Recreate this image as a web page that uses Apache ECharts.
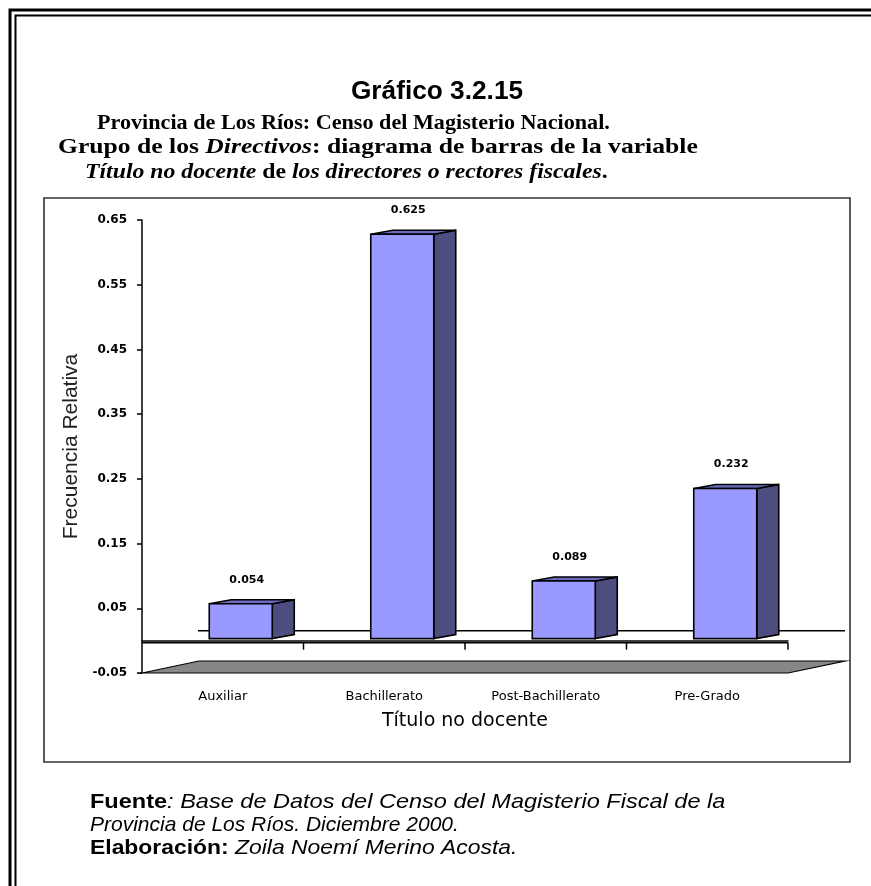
<!DOCTYPE html>
<html>
<head>
<meta charset="utf-8">
<title>Gráfico 3.2.15</title>
<script src="https://cdn.jsdelivr.net/npm/echarts@6/dist/echarts.min.js"></script>
<style>
  html, body { margin: 0; padding: 0; background: #fff; }
  #chart { width: 871px; height: 886px; }
</style>
</head>
<body>
<div id="chart"></div>
<script>
// datos del grafico
var categorias = ['Auxiliar', 'Bachillerato', 'Post-Bachillerato', 'Pre-Grado'];
var frecuencias = [0.054, 0.625, 0.089, 0.232];
var etiquetas = ['0.054', '0.625', '0.089', '0.232'];
var ejeMin = -0.05, ejeMax = 0.65, ejePaso = 0.1;

// apariencia de las barras 3D
var BAR_W = 63, BAR_SHIFT = 18, BAR_DY = -2;
var SIDE_DX = 22, SIDE_DY = -4;
var FLOOR_DX = 57, FLOOR_DY = -12;

var chart = echarts.init(document.getElementById('chart'));

function barra3d(params, api) {
  var i = api.value(0);
  var top = api.coord([i, api.value(1)]);
  var base = api.coord([i, 0]);
  var x0 = top[0] + BAR_SHIFT - BAR_W / 2, x1 = x0 + BAR_W;
  var yt = top[1] + BAR_DY, yb = base[1] + BAR_DY;
  var linea = { stroke: '#000', lineWidth: 1.6 };
  return {
    type: 'group',
    children: [
      { type: 'polygon', shape: { points: [[x1, yt], [x1 + SIDE_DX, yt + SIDE_DY], [x1 + SIDE_DX, yb + SIDE_DY], [x1, yb]] },
        style: Object.assign({ fill: '#4d4d7f' }, linea) },
      { type: 'polygon', shape: { points: [[x0, yt], [x0 + SIDE_DX, yt + SIDE_DY], [x1 + SIDE_DX, yt + SIDE_DY], [x1, yt]] },
        style: Object.assign({ fill: '#6b6bbf' }, linea) },
      { type: 'rect', shape: { x: x0, y: yt, width: BAR_W, height: yb - yt },
        style: Object.assign({ fill: '#9999ff' }, linea) },
      { type: 'text', style: { text: etiquetas[params.dataIndex], x: x0 + BAR_W / 2 + 6, y: yt - 24,
        align: 'center', verticalAlign: 'middle', textAlign: 'center', textVerticalAlign: 'middle',
        font: 'bold 11px "DejaVu Sans"', fill: '#000' } }
    ]
  };
}

function piso(params, api) {
  var cs = params.coordSys;
  var xa = cs.x, xb = cs.x + cs.width, yf = cs.y + cs.height;
  var y0 = api.coord([0, 0])[1];
  var hijos = [
    { type: 'polygon', shape: { points: [[xa, yf], [xa + FLOOR_DX, yf + FLOOR_DY], [xb + FLOOR_DX, yf + FLOOR_DY], [xb, yf]] },
      style: { fill: '#878787', stroke: '#000', lineWidth: 1.2 } },
    { type: 'line', shape: { x1: xa + FLOOR_DX - 1, y1: y0 - 10, x2: xb + FLOOR_DX, y2: y0 - 10 },
      style: { stroke: '#000', lineWidth: 1.5 } },
    { type: 'line', shape: { x1: xa, y1: y0 + 2, x2: xb, y2: y0 + 2 },
      style: { stroke: '#000', lineWidth: 1.5 } }
  ];
  for (var k = 1; k <= categorias.length; k++) {
    var xt = xa + k * cs.width / categorias.length;
    hijos.push({ type: 'line', shape: { x1: xt, y1: y0 + 2, x2: xt, y2: y0 + 9 },
      style: { stroke: '#000', lineWidth: 1.5 } });
  }
  return { type: 'group', children: hijos };
}

// texto estirado a lo ancho, como en la imagen original
function texto(x, y, sx, style) {
  return {
    type: 'text', x: x, y: y, scaleX: sx,
    style: Object.assign({ x: 0, y: 0, verticalAlign: 'middle', textVerticalAlign: 'middle', fill: '#000' }, style)
  };
}
var serif = { b: { font: 'bold 21px "Liberation Serif"' }, bi: { font: 'italic bold 21px "Liberation Serif"' } };
var sans = { b: { font: 'bold 21px "Liberation Sans"' }, i: { font: 'italic 21px "Liberation Sans"' } };

var option = {
  animation: false,
  backgroundColor: '#fff',
  grid: { left: 142, right: 83, top: 220, bottom: 213 },
  xAxis: {
    type: 'category',
    data: categorias,
    axisLine: { lineStyle: { color: '#000', width: 1.5 } },
    axisTick: { length: 7, lineStyle: { color: '#000', width: 1.5 } },
    axisLabel: { margin: 17, fontFamily: 'DejaVu Sans', fontSize: 13, color: '#000' },
    name: 'Título no docente',
    nameLocation: 'middle',
    nameGap: 39,
    nameTextStyle: { fontFamily: 'DejaVu Sans', fontSize: 19, color: '#000' }
  },
  yAxis: {
    type: 'value',
    min: ejeMin,
    max: ejeMax,
    interval: ejePaso,
    splitLine: { show: false },
    axisLine: { show: true, lineStyle: { color: '#000', width: 1.5 } },
    axisTick: { show: true, length: 5, lineStyle: { color: '#000', width: 1.5 } },
    axisLabel: {
      margin: 15, fontFamily: 'DejaVu Sans', fontWeight: 'bold', fontSize: 12, color: '#000',
      formatter: function (v) { return v.toFixed(2); }
    },
    name: 'Frecuencia Relativa',
    nameLocation: 'middle',
    nameRotate: 90,
    nameGap: 59,
    nameTextStyle: { fontFamily: 'Liberation Sans', fontSize: 21, color: '#222' }
  },
  series: [
    { type: 'custom', renderItem: piso, data: [[0, ejeMin]], z: 1, silent: true },
    { type: 'custom', renderItem: barra3d, data: frecuencias.map(function (v, i) { return [i, v]; }),
      encode: { x: 0, y: 1 }, z: 3 }
  ],
  graphic: [
    // marco doble
    { type: 'rect', shape: { x: 10, y: 10, width: 900, height: 900 }, style: { fill: 'none', stroke: '#000', lineWidth: 3 } },
    { type: 'rect', shape: { x: 15.5, y: 15.5, width: 900, height: 900 }, style: { fill: 'none', stroke: '#000', lineWidth: 2 } },
    // recuadro del grafico
    { type: 'rect', shape: { x: 44, y: 198, width: 806, height: 564 }, style: { fill: 'none', stroke: '#333', lineWidth: 1.6 }, z: -1 },
    // titulos
    { type: 'text', style: { text: 'Gráfico 3.2.15', x: 437, y: 92, align: 'center', verticalAlign: 'middle',
      textAlign: 'center', textVerticalAlign: 'middle', font: 'bold 25px "Liberation Sans"', fill: '#000' }, scaleX: 1.05, originX: 437 },
    texto(97, 124, 1.055, { text: '{b|Provincia de Los Ríos: Censo del Magisterio Nacional.}', rich: serif }),
    texto(58, 148, 1.22, { text: '{b|Grupo de los }{bi|Directivos}{b|: diagrama de barras de la variable}', rich: serif }),
    texto(85, 173, 1.13, { text: '{bi|Título no docente}{b| de }{bi|los directores o rectores fiscales}{b|.}', rich: serif }),
    // pie
    texto(90, 802, 1.12, { text: '{b|Fuente}{i|: Base de Datos del Censo del Magisterio Fiscal de la}', rich: sans }),
    texto(90, 825, 1.0, { text: '{i|Provincia de Los Ríos. Diciembre 2000.}', rich: sans }),
    texto(90, 848, 1.09, { text: '{b|Elaboración:}{i| Zoila Noemí Merino Acosta.}', rich: sans })
  ]
};
chart.setOption(option);
</script>
</body>
</html>
